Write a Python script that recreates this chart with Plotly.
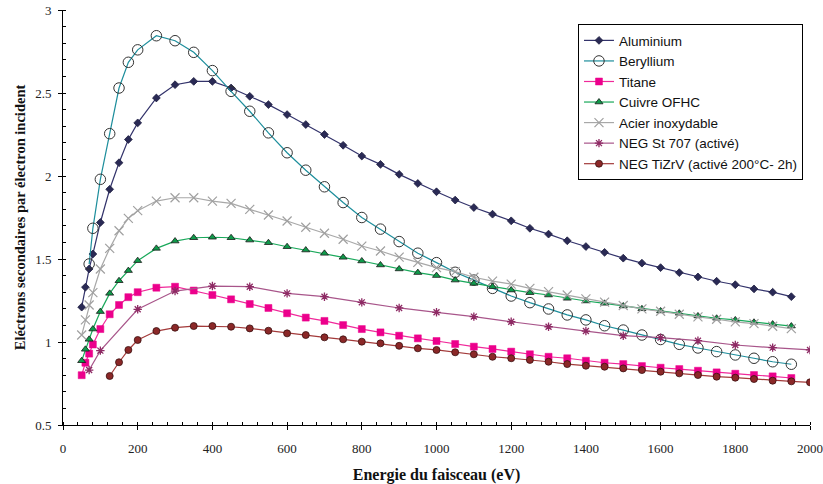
import plotly.graph_objects as go

# Beam energy grids (eV)
energy_full = [50, 60, 70, 80, 100, 125, 150, 175, 200, 250, 300, 350, 400, 450, 500,
               550, 600, 650, 700, 750, 800, 850, 900, 950, 1000, 1050, 1100, 1150,
               1200, 1250, 1300, 1350, 1400, 1450, 1500, 1550, 1600, 1650, 1700, 1750,
               1800, 1850, 1900, 1950]
energy_be = [70, 80, 100, 125, 150, 175, 200, 250, 300, 350, 400, 450, 500,
             550, 600, 650, 700, 750, 800, 850, 900, 950, 1000, 1050, 1100, 1150,
             1200, 1250, 1300, 1350, 1400, 1450, 1500, 1550, 1600, 1650, 1700, 1750,
             1800, 1850, 1900, 1950]
energy_st707 = [70, 100, 200, 300, 400, 500, 600, 700, 800, 900, 1000, 1100, 1200,
                1300, 1400, 1500, 1600, 1700, 1800, 1900, 2000]
energy_tizrv = [125, 150, 175, 200, 250, 300, 350, 400, 450, 500, 550, 600, 650, 700,
                750, 800, 850, 900, 950, 1000, 1050, 1100, 1150, 1200, 1250, 1300, 1350,
                1400, 1450, 1500, 1550, 1600, 1650, 1700, 1750, 1800, 1850, 1900, 1950,
                2000]

# Secondary electron yield per material
aluminium = [1.21, 1.33, 1.44, 1.53, 1.72, 1.92, 2.08, 2.22, 2.32, 2.47, 2.55, 2.57,
             2.57, 2.53, 2.48, 2.43, 2.37, 2.31, 2.25, 2.185, 2.12, 2.07, 2.01, 1.955,
             1.905, 1.855, 1.81, 1.77, 1.73, 1.685, 1.65, 1.61, 1.575, 1.54, 1.505,
             1.475, 1.448, 1.418, 1.392, 1.366, 1.345, 1.32, 1.30, 1.273]
beryllium = [1.47, 1.685, 1.98, 2.255, 2.53, 2.685, 2.76, 2.845, 2.815, 2.745, 2.635,
             2.51, 2.39, 2.26, 2.14, 2.035, 1.935, 1.84, 1.75, 1.68, 1.605, 1.535,
             1.478, 1.42, 1.373, 1.323, 1.277, 1.237, 1.199, 1.163, 1.133, 1.098,
             1.072, 1.042, 1.015, 0.986, 0.964, 0.942, 0.922, 0.902, 0.881, 0.866]
titane = [0.80, 0.875, 0.93, 0.985, 1.078, 1.167, 1.223, 1.27, 1.30, 1.327, 1.333,
          1.31, 1.283, 1.257, 1.229, 1.205, 1.173, 1.147, 1.127, 1.102, 1.078, 1.058,
          1.038, 1.022, 1.006, 0.988, 0.972, 0.958, 0.942, 0.926, 0.911, 0.902, 0.887,
          0.875, 0.867, 0.855, 0.845, 0.837, 0.827, 0.817, 0.809, 0.801, 0.793, 0.783]
cuivre = [0.887, 0.956, 1.016, 1.078, 1.183, 1.293, 1.369, 1.43, 1.49, 1.564, 1.608,
          1.628, 1.631, 1.628, 1.614, 1.598, 1.574, 1.554, 1.534, 1.51, 1.488, 1.464,
          1.44, 1.418, 1.40, 1.373, 1.353, 1.333, 1.313, 1.297, 1.283, 1.263, 1.247,
          1.233, 1.217, 1.20, 1.187, 1.173, 1.157, 1.143, 1.133, 1.119, 1.108, 1.096]
acier = [1.042, 1.133, 1.223, 1.297, 1.44, 1.564, 1.67, 1.745, 1.791, 1.849, 1.869,
         1.869, 1.849, 1.835, 1.799, 1.765, 1.729, 1.691, 1.655, 1.619, 1.578, 1.548,
         1.511, 1.48, 1.448, 1.424, 1.39, 1.367, 1.349, 1.323, 1.303, 1.283, 1.26,
         1.24, 1.22, 1.20, 1.185, 1.167, 1.151, 1.137, 1.121, 1.111, 1.095, 1.081]
st707 = [0.831, 0.948, 1.197, 1.307, 1.337, 1.333, 1.293, 1.273, 1.239, 1.205, 1.179,
         1.153, 1.122, 1.092, 1.066, 1.038, 1.026, 1.008, 0.982, 0.966, 0.952]
tizrv = [0.795, 0.878, 0.952, 1.012, 1.066, 1.086, 1.096, 1.096, 1.092, 1.082, 1.068,
         1.052, 1.042, 1.028, 1.016, 1.002, 0.992, 0.977, 0.962, 0.952, 0.938, 0.926,
         0.911, 0.902, 0.892, 0.881, 0.867, 0.857, 0.851, 0.841, 0.831, 0.821, 0.811,
         0.801, 0.791, 0.785, 0.777, 0.767, 0.763, 0.757]

x_ticks = [0, 200, 400, 600, 800, 1000, 1200, 1400, 1600, 1800, 2000]
y_ticks = [0.5, 1, 1.5, 2, 2.5, 3]
y_ticktext = ["0.5", "1", "1.5", "2", "2.5", "3"]

series = [
    dict(name="Aluminium", x=energy_full, y=aluminium, line="#33336B",
         marker=dict(symbol="diamond", size=6, color="#2A2A55",
                     line=dict(color="#1E1E40", width=0.8))),
    dict(name="Beryllium", x=energy_be, y=beryllium, line="#1D8E9C",
         marker=dict(symbol="circle-open", size=10.5, color="#333333",
                     line=dict(color="#333333", width=1))),
    dict(name="Titane", x=energy_full, y=titane, line="#F0299A",
         marker=dict(symbol="square", size=7, color="#EC008C",
                     line=dict(color="#EC008C", width=0.5))),
    dict(name="Cuivre OFHC", x=energy_full, y=cuivre, line="#19A85A",
         marker=dict(symbol="triangle-up", size=7, color="#0F9A4A",
                     line=dict(color="#1A1A1A", width=0.8))),
    dict(name="Acier inoxydable", x=energy_full, y=acier, line="#A8A8A8",
         marker=dict(symbol="x-thin-open", size=9, color="#A0A0A0",
                     line=dict(color="#A0A0A0", width=1.2))),
    dict(name="NEG St 707 (activé)", x=energy_st707, y=st707, line="#A8558A",
         marker=dict(symbol="asterisk-open", size=7, color="#8E2A64",
                     line=dict(color="#8E2A64", width=1.3))),
    dict(name="NEG TiZrV (activé 200°C- 2h)", x=energy_tizrv, y=tizrv, line="#A33A3A",
         marker=dict(symbol="circle", size=7, color="#8B2828",
                     line=dict(color="#3A1010", width=0.8))),
]

fig = go.Figure()
for s in series:
    fig.add_trace(go.Scatter(
        x=s["x"], y=s["y"], name=s["name"], mode="lines+markers",
        line=dict(color=s["line"], width=1.2), marker=s["marker"],
    ))

serif = "Liberation Serif, Times New Roman, serif"
xrange = [0, 2000]
yrange = [0.5, 3]

fig.update_layout(
    width=823, height=484,
    margin=dict(l=63, r=13, t=10, b=59, autoexpand=False),
    paper_bgcolor="white", plot_bgcolor="white",
    showlegend=True,
    legend=dict(
        x=0.9906, y=0.966, xanchor="right", yanchor="top",
        bgcolor="white", bordercolor="#000000", borderwidth=1,
        font=dict(family="Liberation Sans, Arial, sans-serif", size=13.5, color="#111111"),
        tracegroupgap=0, itemwidth=30,
    ),
    xaxis=dict(
        range=xrange, tickvals=x_ticks, automargin=False,
        showgrid=False, zeroline=False, showline=True, linecolor="black", linewidth=1,
        ticks="outside", ticklen=4, tickcolor="black", tickwidth=1,
        minor=dict(dtick=40, ticks="inside", ticklen=3, tickcolor="black", showgrid=False),
        tickfont=dict(family=serif, size=13, color="#222222"),
        ticklabelstandoff=7,
        title=dict(text="<b>Energie du faisceau (eV)</b>",
                   font=dict(family=serif, size=16, color="#111111"), standoff=14),
    ),
    yaxis=dict(
        range=yrange, tickvals=y_ticks, ticktext=y_ticktext, automargin=False,
        showgrid=False, zeroline=False, showline=True, linecolor="black", linewidth=1,
        ticks="outside", ticklen=4, tickcolor="black", tickwidth=1,
        minor=dict(dtick=0.1, ticks="inside", ticklen=3, tickcolor="black", showgrid=False),
        tickfont=dict(family=serif, size=13, color="#222222"),
        ticklabelstandoff=4,
        title=dict(text="<b>Eléctrons secondaires par électron incident</b>",
                   font=dict(family=serif, size=14.5, color="#111111"), standoff=6),
    ),
    # inner halves of the major ticks
    xaxis3=dict(overlaying="x", matches="x", anchor="y", side="bottom", range=xrange,
                tickvals=x_ticks, automargin=False,
                ticks="inside", ticklen=4, tickcolor="black", showticklabels=False,
                showgrid=False, zeroline=False, showline=False),
    yaxis3=dict(overlaying="y", matches="y", anchor="x", side="left", range=yrange,
                tickvals=y_ticks, automargin=False,
                ticks="inside", ticklen=4, tickcolor="black", showticklabels=False,
                showgrid=False, zeroline=False, showline=False),
    # light frame on the top and right edges of the plot area
    xaxis2=dict(overlaying="x", matches="x", anchor="y", side="top", range=xrange,
                showline=True, linecolor="#A8A8A8", linewidth=1, ticks="", automargin=False,
                showticklabels=False, showgrid=False, zeroline=False),
    yaxis2=dict(overlaying="y", matches="y", anchor="x", side="right", range=yrange,
                showline=True, linecolor="#A8A8A8", linewidth=1, ticks="", automargin=False,
                showticklabels=False, showgrid=False, zeroline=False),
)

fig.write_html("out.html")
